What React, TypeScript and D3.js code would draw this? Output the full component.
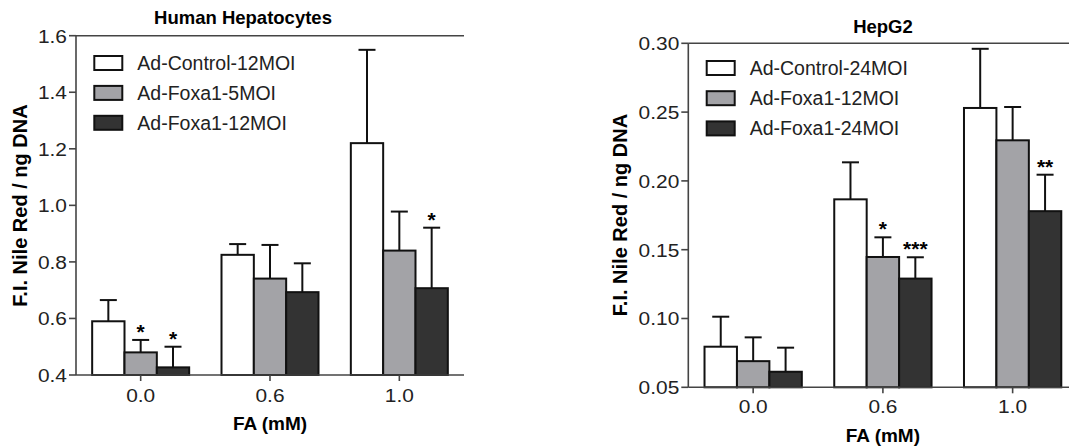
import React from 'react';
import * as d3 from 'd3';

// FA concentration groups (x axis)
const faLevels = ['0.0', '0.6', '1.0'];

// Human hepatocytes panel
const hepSeries = ['Ad-Control-12MOI', 'Ad-Foxa1-5MOI', 'Ad-Foxa1-12MOI'];
const hepMeans = [
  [0.59, 0.48, 0.427],
  [0.825, 0.741, 0.693],
  [1.22, 0.84, 0.707],
];
const hepErrors = [
  [0.075, 0.044, 0.073],
  [0.038, 0.119, 0.102],
  [0.33, 0.138, 0.214],
];
const hepStars = [
  ['', '*', '*'],
  ['', '', ''],
  ['', '', '*'],
];
const hepTicks = [0.4, 0.6, 0.8, 1.0, 1.2, 1.4, 1.6];

// HepG2 panel
const hepg2Series = ['Ad-Control-24MOI', 'Ad-Foxa1-12MOI', 'Ad-Foxa1-24MOI'];
const hepg2Means = [
  [0.0795, 0.069, 0.0613],
  [0.1866, 0.1447, 0.129],
  [0.253, 0.2295, 0.178],
];
const hepg2Errors = [
  [0.0218, 0.0173, 0.0175],
  [0.0269, 0.0143, 0.0155],
  [0.043, 0.0242, 0.0265],
];
const hepg2Stars = [
  ['', '', ''],
  ['', '*', '***'],
  ['', '', '**'],
];
const hepg2Ticks = [0.05, 0.1, 0.15, 0.2, 0.25, 0.3];

const fills = ['#ffffff', '#a3a3a7', '#333333'];
const font = 'Liberation Sans, Arial, sans-serif';

const Panel = ({ x0, x1, yTop, yBottom, ticks, fmt, series, means, errors, stars,
  title, titleX, titleY, yLabelX, yLabelY, xLabelY, legendX, legendY, legendGap, tickDy }) => {
  const y = d3.scaleLinear().domain([ticks[0], ticks[ticks.length - 1]]).range([yBottom, yTop]);
  const x = d3.scaleBand().domain(faLevels).range([x0, x1]).paddingInner(0.25).paddingOuter(0.125);
  const xs = d3.scaleBand().domain(series).range([0, x.bandwidth()]);
  const cap = 17;

  return (
    <g fontFamily={font}>
      <text x={titleX} y={titleY} textAnchor="middle" fontWeight="bold" fontSize={18.5}>{title}</text>

      {/* bars */}
      {faLevels.map((fa, gi) => series.map((s, si) => {
        const bx = x(fa) + xs(s);
        const top = y(means[gi][si]);
        const et = y(means[gi][si] + errors[gi][si]);
        const cx = bx + xs.bandwidth() / 2;
        return (
          <g key={fa + s}>
            <line x1={cx} x2={cx} y1={top} y2={et} stroke="#111" strokeWidth={2} />
            <line x1={cx - cap / 2} x2={cx + cap / 2} y1={et} y2={et} stroke="#111" strokeWidth={2} />
            <rect x={bx} y={top} width={xs.bandwidth()} height={yBottom - top}
              fill={fills[si]} stroke="#111" strokeWidth={2} />
            {stars[gi][si] && (
              <text x={cx} y={et - 1} textAnchor="middle" fontSize={21} fontWeight="bold">{stars[gi][si]}</text>
            )}
          </g>
        );
      }))}

      {/* axes */}
      <line x1={x0} x2={x0} y1={yTop} y2={yBottom} stroke="#444" strokeWidth={1.6} />
      <line x1={x0} x2={x1} y1={yTop} y2={yTop} stroke="#444" strokeWidth={1.6} />
      <line x1={x0} x2={x1} y1={yBottom} y2={yBottom} stroke="#444" strokeWidth={1.6} />
      {ticks.map(t => (
        <g key={t}>
          <line x1={x0 - 7} x2={x0} y1={y(t)} y2={y(t)} stroke="#444" strokeWidth={1.6} />
          <text transform={`translate(${x0 - 9},${y(t)}) scale(1.1,1)`} dy="0.36em"
            textAnchor="end" fontSize={19} fill="#222">{fmt(t)}</text>
        </g>
      ))}
      {faLevels.map(fa => {
        const cx = x(fa) + x.bandwidth() / 2;
        return (
          <g key={fa}>
            <line x1={cx} x2={cx} y1={yBottom} y2={yBottom + 6} stroke="#444" strokeWidth={1.6} />
            <text transform={`translate(${cx},${yBottom + tickDy}) scale(1.1,1)`}
              textAnchor="middle" fontSize={19} fill="#222">{fa}</text>
          </g>
        );
      })}

      <text transform={`translate(${yLabelX},${yLabelY}) rotate(-90)`} textAnchor="middle"
        fontWeight="bold" fontSize={20}>F.I. Nile Red / ng DNA</text>
      <text x={x(faLevels[1]) + x.bandwidth() / 2} y={xLabelY} textAnchor="middle"
        fontWeight="bold" fontSize={19}>FA (mM)</text>

      {/* legend */}
      {series.map((s, i) => {
        const cy = legendY + i * legendGap;
        return (
          <g key={s}>
            <rect x={legendX} y={cy - 7} width={28} height={14} fill={fills[i]} stroke="#111" strokeWidth={2} />
            <text x={legendX + 43} y={cy + 7} fontSize={19.5} fill="#222">{s}</text>
          </g>
        );
      })}
    </g>
  );
};

export default function App() {
  return (
    <svg width={1069} height={448} style={{ position: 'absolute', left: 0, top: 0, background: '#fff' }}>
      <Panel x0={76} x1={464} yTop={35.7} yBottom={375} ticks={hepTicks} fmt={d3.format('.1f')}
        series={hepSeries} means={hepMeans} errors={hepErrors} stars={hepStars}
        title="Human Hepatocytes" titleX={243} titleY={24}
        yLabelX={27} yLabelY={205.5} xLabelY={430} legendX={94.3} legendY={63} legendGap={29.9} tickDy={26.7} />
      <Panel x0={688.3} x1={1077.5} yTop={43.3} yBottom={387.3} ticks={hepg2Ticks} fmt={d3.format('.2f')}
        series={hepg2Series} means={hepg2Means} errors={hepg2Errors} stars={hepg2Stars}
        title="HepG2" titleX={883} titleY={33}
        yLabelX={627} yLabelY={215} xLabelY={442} legendX={706.7} legendY={68} legendGap={30.2} tickDy={25.7} />
    </svg>
  );
}
